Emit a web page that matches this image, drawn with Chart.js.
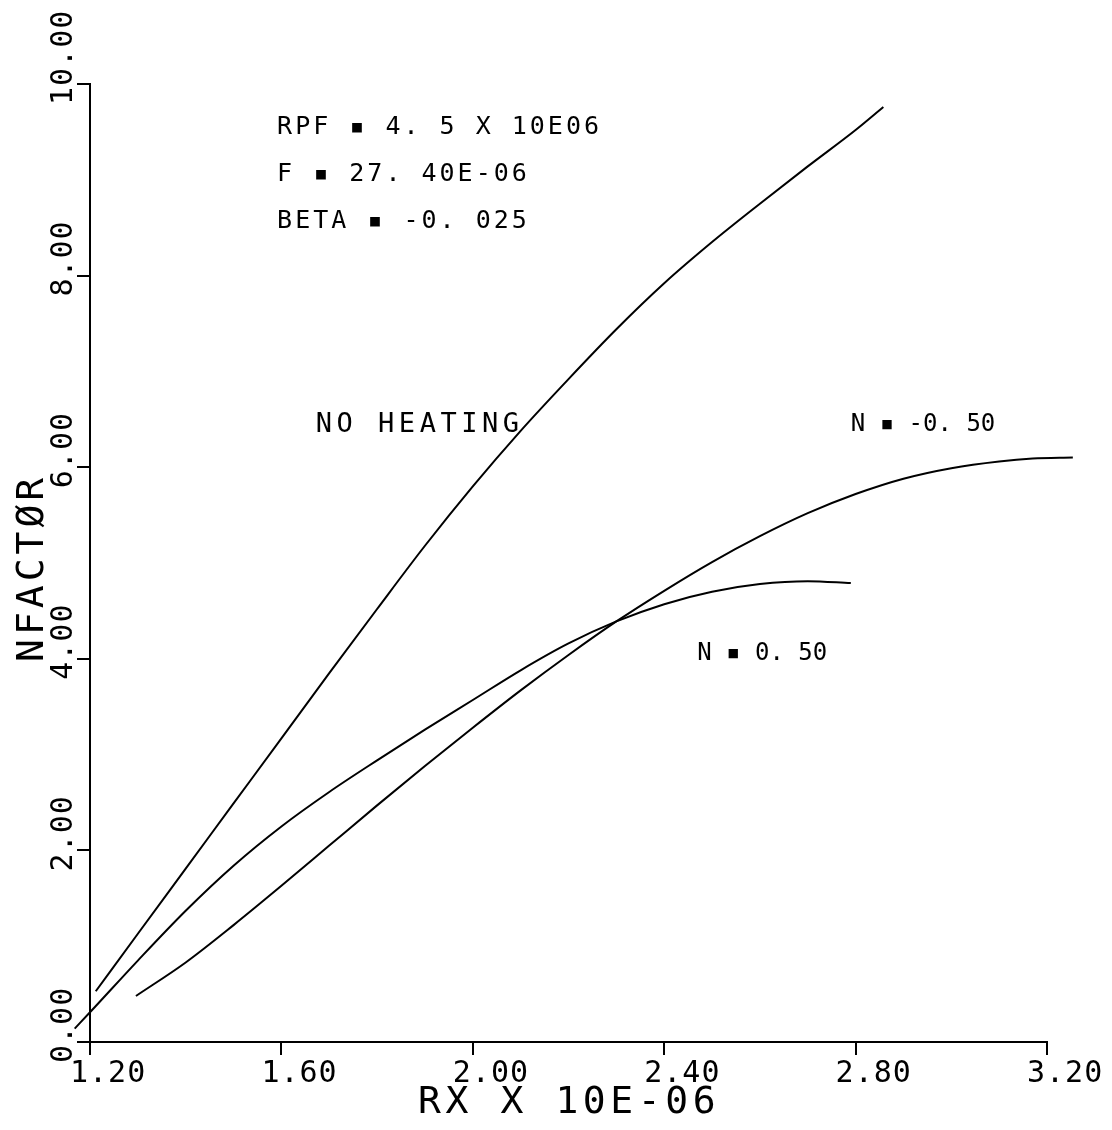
<!DOCTYPE html>
<html>
<head>
<meta charset="utf-8">
<title>NFACTOR vs RX</title>
<script src="https://cdn.jsdelivr.net/npm/chart.js@4"></script>
<style>
  html, body { margin: 0; padding: 0; background: #fff; }
  canvas { display: block; }
</style>
</head>
<body>
<canvas id="nfactorChart" width="1112" height="1130"></canvas>
<script>
// RX x 10E-06 values and NFACTOR readings for each curve
const noHeatingX = [1.212, 1.3, 1.4, 1.5, 1.6, 1.7, 1.8, 1.9, 2.0, 2.1, 2.2, 2.3, 2.4, 2.5, 2.6, 2.7, 2.8, 2.858];
const noHeatingY = [0.53, 1.13, 1.81, 2.49, 3.17, 3.85, 4.52, 5.18, 5.80, 6.38, 6.92, 7.44, 7.92, 8.35, 8.75, 9.14, 9.52, 9.76];

const nPlusX = [1.168, 1.2, 1.3, 1.4, 1.5, 1.6, 1.7, 1.8, 1.9, 2.0, 2.1, 2.2, 2.3, 2.4, 2.5, 2.6, 2.7, 2.79];
const nPlusY = [0.14, 0.31, 0.85, 1.37, 1.84, 2.25, 2.61, 2.94, 3.26, 3.57, 3.88, 4.16, 4.39, 4.57, 4.70, 4.78, 4.81, 4.79];

// the N = -0.50 curve runs a little past the last tick, to 3.254
const nMinusX = [1.296, 1.4, 1.5, 1.6, 1.7, 1.8, 1.9, 2.0, 2.1, 2.2, 2.3, 2.4, 2.5, 2.6, 2.7, 2.8, 2.9, 3.0, 3.1, 3.17, 3.254];
const nMinusY = [0.48, 0.83, 1.22, 1.63, 2.05, 2.47, 2.88, 3.28, 3.67, 4.04, 4.39, 4.71, 5.01, 5.28, 5.52, 5.72, 5.88, 5.99, 6.06, 6.09, 6.10];

// axis ranges and tick steps
const xMin = 1.2, xMax = 3.2, xStep = 0.4;
const yMin = 0, yMax = 10, yStep = 2;

// text placed on the plot, anchored at data coordinates (left end of the baseline)
const noteText = ['RPF \u25AA 4. 5 X 10E06', 'F \u25AA 27. 40E-06', 'BETA \u25AA -0. 025', 'NO HEATING', 'N \u25AA -0. 50', 'N \u25AA 0. 50'];
const noteX = [1.591, 1.591, 1.591, 1.672, 2.790, 2.469];
const noteY = [9.48, 8.99, 8.50, 6.37, 6.38, 3.99];

const xTitle = 'RX X 10E-06';
const yTitle = 'NFACT\u00D8R';

const FONT = '"DejaVu Sans Mono", "Liberation Mono", monospace';

function toPoints(xs, ys) {
  return xs.map((v, i) => ({ x: v, y: ys[i] }));
}

function curve(xs, ys) {
  return {
    data: toPoints(xs, ys),
    borderColor: '#000',
    borderWidth: 2,
    pointRadius: 0,
    fill: false,
    cubicInterpolationMode: 'monotone',
    clip: false
  };
}

function drawText(ctx, str, px, py, size, spacing, angle) {
  ctx.save();
  ctx.font = size + 'px ' + FONT;
  ctx.letterSpacing = spacing + 'px';
  ctx.translate(px, py);
  if (angle) ctx.rotate(angle);
  ctx.fillText(str, 0, 0);
  ctx.restore();
}

// tick labels, axis titles and notes in the plotter lettering
const plotterText = {
  id: 'plotterText',
  afterDraw(chart) {
    const { ctx, chartArea } = chart;
    const xs = chart.scales.x;
    const ys = chart.scales.y;
    ctx.save();
    ctx.fillStyle = '#000';
    ctx.textAlign = 'left';
    ctx.textBaseline = 'alphabetic';

    xs.ticks.forEach(t => {
      drawText(ctx, t.value.toFixed(2), xs.getPixelForValue(t.value) - 20, chartArea.bottom + 40, 30, 1, 0);
    });
    ys.ticks.forEach(t => {
      drawText(ctx, t.value.toFixed(2), chartArea.left - 18, ys.getPixelForValue(t.value) + 21, 30, 1, -Math.PI / 2);
    });

    drawText(ctx, xTitle, 418, chartArea.bottom + 71, 38, 4.6, 0);
    drawText(ctx, yTitle, 43, 662, 38, 4, -Math.PI / 2);

    noteText.forEach((s, i) => {
      let size = 25, sp = 3;
      if (s === 'NO HEATING') { size = 27; sp = 4.5; }
      if (s.startsWith('N ')) { size = 24; sp = 0; }
      drawText(ctx, s, xs.getPixelForValue(noteX[i]), ys.getPixelForValue(noteY[i]), size, sp, 0);
    });
    ctx.restore();
  }
};

const axisLook = {
  grid: { drawOnChartArea: false, drawTicks: true, tickLength: 13, color: '#000', lineWidth: 2 },
  border: { display: true, color: '#000', width: 2 }
};

const config = {
  type: 'line',
  data: {
    datasets: [
      curve(noHeatingX, noHeatingY),
      curve(nPlusX, nPlusY),
      curve(nMinusX, nMinusY)
    ]
  },
  options: {
    responsive: false,
    animation: false,
    layout: { padding: { left: 77, right: 65, top: 84, bottom: 75 } },
    plugins: {
      legend: { display: false },
      tooltip: { enabled: false }
    },
    scales: {
      x: Object.assign({
        type: 'linear',
        min: xMin,
        max: xMax,
        ticks: { display: false, stepSize: xStep }
      }, axisLook),
      y: Object.assign({
        type: 'linear',
        min: yMin,
        max: yMax,
        ticks: { display: false, stepSize: yStep }
      }, axisLook)
    }
  },
  plugins: [plotterText]
};

const nfactorChart = new Chart(document.getElementById('nfactorChart'), config);
</script>
</body>
</html>
